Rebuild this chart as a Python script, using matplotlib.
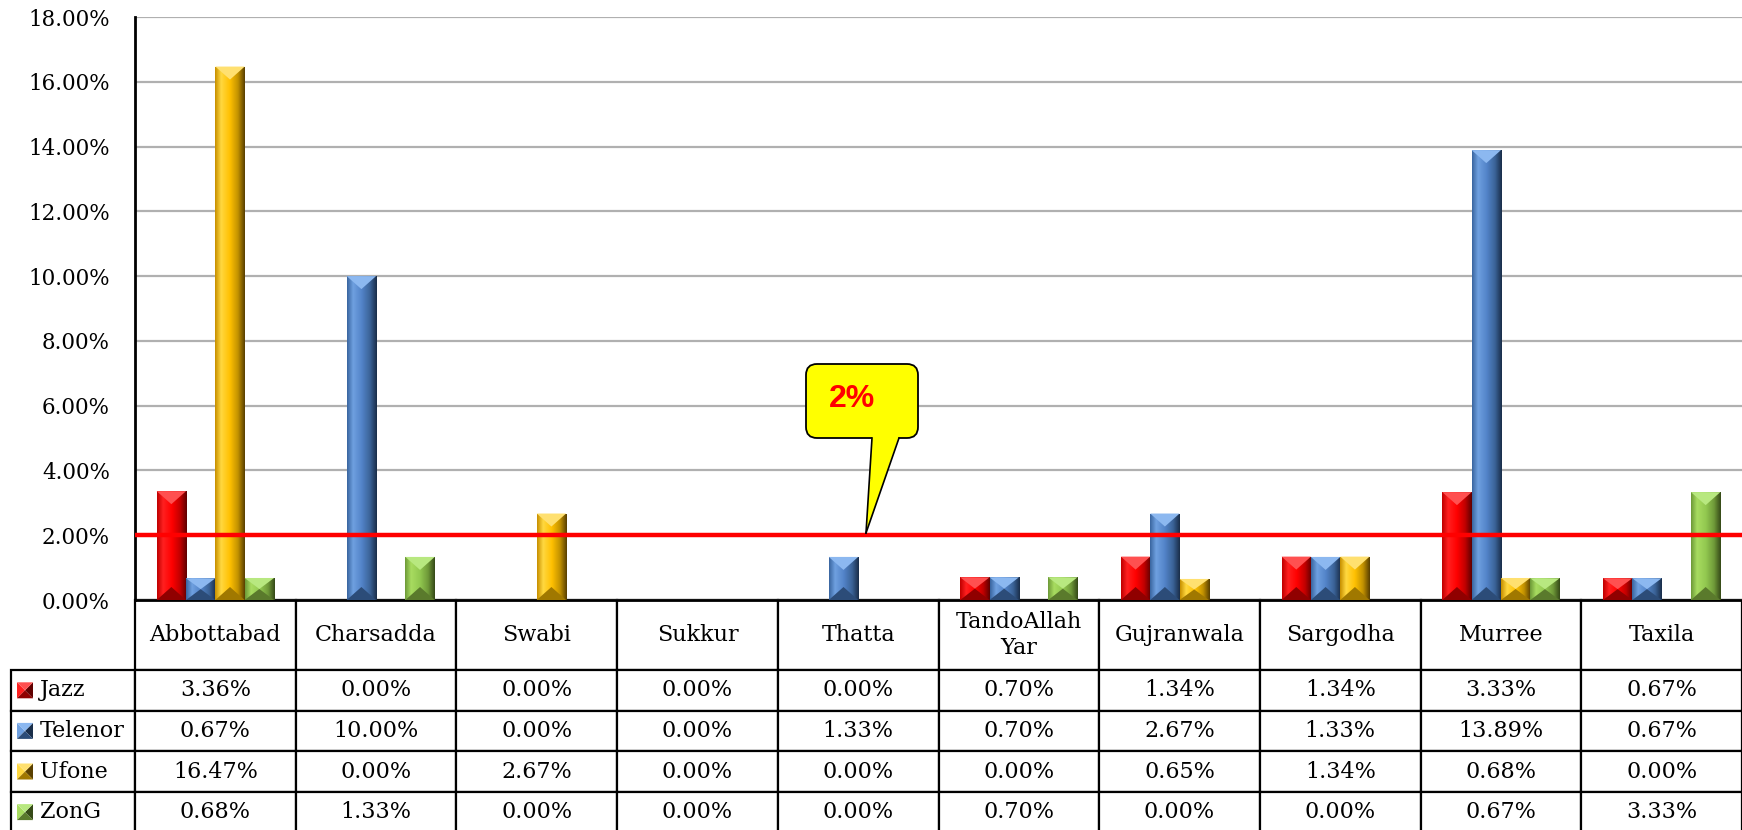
import matplotlib.pyplot as plt
import numpy as np
from matplotlib.colors import LinearSegmentedColormap
from matplotlib.patches import Polygon, FancyBboxPatch

cities = ["Abbottabad", "Charsadda", "Swabi", "Sukkur", "Thatta",
          "TandoAllah\nYar", "Gujranwala", "Sargodha", "Murree", "Taxila"]
operators = ["Jazz", "Telenor", "Ufone", "ZonG"]
jazz = [3.36, 0.00, 0.00, 0.00, 0.00, 0.70, 1.34, 1.34, 3.33, 0.67]
telenor = [0.67, 10.00, 0.00, 0.00, 1.33, 0.70, 2.67, 1.33, 13.89, 0.67]
ufone = [16.47, 0.00, 2.67, 0.00, 0.00, 0.00, 0.65, 1.34, 0.68, 0.00]
zong = [0.68, 1.33, 0.00, 0.00, 0.00, 0.70, 0.00, 0.00, 0.67, 3.33]
series = [jazz, telenor, ufone, zong]
threshold = 2.0
callout_text = "2%"
yticks = np.arange(0, 19, 2)

# gradient stops per operator: left edge, highlight, base, shade, right edge; plus top / bottom facets
palettes = [
    dict(grad=["#C00000", "#FF2020", "#FF0000", "#C00000", "#600000"], top="#FF5050", bot="#900000"),
    dict(grad=["#3A66A0", "#6FA0E0", "#5283C8", "#3A6296", "#1A2E4A"], top="#8CB8F0", bot="#2C4C78"),
    dict(grad=["#C89000", "#FFD840", "#FFC000", "#C09000", "#5A4000"], top="#FFE070", bot="#A07800"),
    dict(grad=["#6E9A38", "#A8DC60", "#92C850", "#6E9838", "#364A18"], top="#B8E880", bot="#5A7A2C"),
]

plt.rcParams["font.family"] = ["DejaVu Serif"]

W, H = 1742, 830
fig = plt.figure(figsize=(W / 100, H / 100), dpi=100)
ax_l, ax_r, ax_t, ax_b = 135, 1742, 17, 600
AW, AH = ax_r - ax_l, ax_b - ax_t
ax = fig.add_axes([ax_l / W, (H - ax_b) / H, AW / W, AH / H])

ymax = 18
ax.set_xlim(0, len(cities))
ax.set_ylim(0, ymax)
px_y = ymax / AH               # data units per pixel vertically
px_x = len(cities) / AW        # data units per pixel horizontally

bar_w = 0.1825
x = np.arange(len(cities)) + 0.5
for k, (vals, pal) in enumerate(zip(series, palettes)):
    bars = ax.bar(x + (k - 1.5) * bar_w, vals, bar_w, color=pal["grad"][2],
                  edgecolor="none", zorder=3)
    cmap = LinearSegmentedColormap.from_list(
        operators[k], list(zip([0, 0.2, 0.5, 0.78, 1.0], pal["grad"])))
    for rect in bars:
        h = rect.get_height()
        if h <= 0:
            continue
        x0, w = rect.get_x(), rect.get_width()
        im = ax.imshow(np.linspace(0, 1, 64).reshape(1, -1), cmap=cmap,
                       extent=[x0, x0 + w, 0, h], aspect="auto", zorder=3.1)
        im.set_clip_path(rect)
        d = min(13 * px_y, h / 2)
        ax.add_patch(Polygon([[x0, h], [x0 + w, h], [x0 + w / 2, h - d]],
                             closed=True, fc=pal["top"], ec="none", zorder=3.2))
        ax.add_patch(Polygon([[x0, 0], [x0 + w, 0], [x0 + w / 2, d]],
                             closed=True, fc=pal["bot"], ec="none", zorder=3.2))

ax.set_xlim(0, len(cities))
ax.set_ylim(0, ymax)
ax.set_aspect("auto")

ax.axhline(threshold, color="#FF0000", lw=3.2, zorder=5)

# callout
bx0, bx1, by0, by1 = (806 - ax_l) * px_x, (918 - ax_l) * px_x, (ax_b - 438) * px_y, (ax_b - 364) * px_y
box = FancyBboxPatch((bx0, by0), bx1 - bx0, by1 - by0,
                     boxstyle="round,pad=0,rounding_size=%f" % (11 * px_x),
                     mutation_aspect=px_y / px_x, fc="#FFFF00", ec="black", lw=1.3, zorder=6)
ax.add_patch(box)
t0, t1 = (872 - ax_l) * px_x, (899 - ax_l) * px_x
tip = ((866 - ax_l) * px_x, (ax_b - 533) * px_y)
ax.add_patch(Polygon([[t0, by0 + 2 * px_y], [t1, by0 + 2 * px_y], list(tip)],
                     closed=True, fc="#FFFF00", ec="none", zorder=7))
ax.plot([t0, tip[0]], [by0, tip[1]], color="black", lw=1.2, zorder=8)
ax.plot([t1, tip[0]], [by0, tip[1]], color="black", lw=1.2, zorder=8)
ax.text((852 - ax_l) * px_x, (ax_b - 399) * px_y, callout_text, color="#FF0000",
        fontsize=23, fontweight="bold", family="Liberation Sans",
        ha="center", va="center", zorder=9)

# axes styling
ax.set_yticks(yticks)
ax.set_yticklabels(["%.2f%%" % v for v in yticks], fontsize=15.5)
ax.tick_params(axis="y", length=0, pad=18)
ax.set_xticks([])
ax.grid(axis="y", color="#B0B0B0", lw=1.6)
ax.set_axisbelow(True)
for s in ["top", "right"]:
    ax.spines[s].set_visible(False)
ax.spines["left"].set_linewidth(2)
ax.spines["bottom"].set_linewidth(2)

# data table under the chart; sizes in axes fractions
lab_w, col_w = 126 / AW, 1 / len(cities)
head_h, row_h = 70 / AH, 40.6 / AH
tab_h = head_h + row_h * len(operators)
cell_text = [["%.2f%%" % v for v in vals] for vals in series]
tab = ax.table(cellText=cell_text, rowLabels=operators, colLabels=cities,
               cellLoc="center", rowLoc="left",
               bbox=[0, -tab_h, 1, tab_h])
tab.auto_set_font_size(False)
tab.set_fontsize(16)
for (r, c), cell in tab.get_celld().items():
    cell.set_width(lab_w if c == -1 else col_w)
    cell.set_height(head_h if r == 0 else row_h)
    cell.set_linewidth(1.6)
    cell.get_text().set_fontfamily("DejaVu Serif")
    if c == -1:
        cell.PAD = 0.23
    if r == 0:
        cell.get_text().set_linespacing(1.25)

# legend keys in the row labels
key = 16
for k, pal in enumerate(palettes):
    kx0 = (17 - ax_l) / AW
    kw = key / AW
    cy = ax_b + 70 + 40.6 * (k + 0.5)
    ky0 = (ax_b - cy - key / 2) / AH
    kh = key / AH
    g = pal["grad"]
    cx, cyy = kx0 + kw / 2, ky0 + kh / 2
    for pts, col in [
        ([[kx0, ky0], [kx0, ky0 + kh], [cx, cyy]], g[1]),
        ([[kx0 + kw, ky0], [kx0 + kw, ky0 + kh], [cx, cyy]], g[4]),
        ([[kx0, ky0 + kh], [kx0 + kw, ky0 + kh], [cx, cyy]], pal["top"]),
        ([[kx0, ky0], [kx0 + kw, ky0], [cx, cyy]], pal["bot"]),
    ]:
        ax.add_patch(Polygon(pts, closed=True, fc=col, ec="none",
                             transform=ax.transAxes, clip_on=False, zorder=10))

fig.savefig("out.png", dpi=100)
